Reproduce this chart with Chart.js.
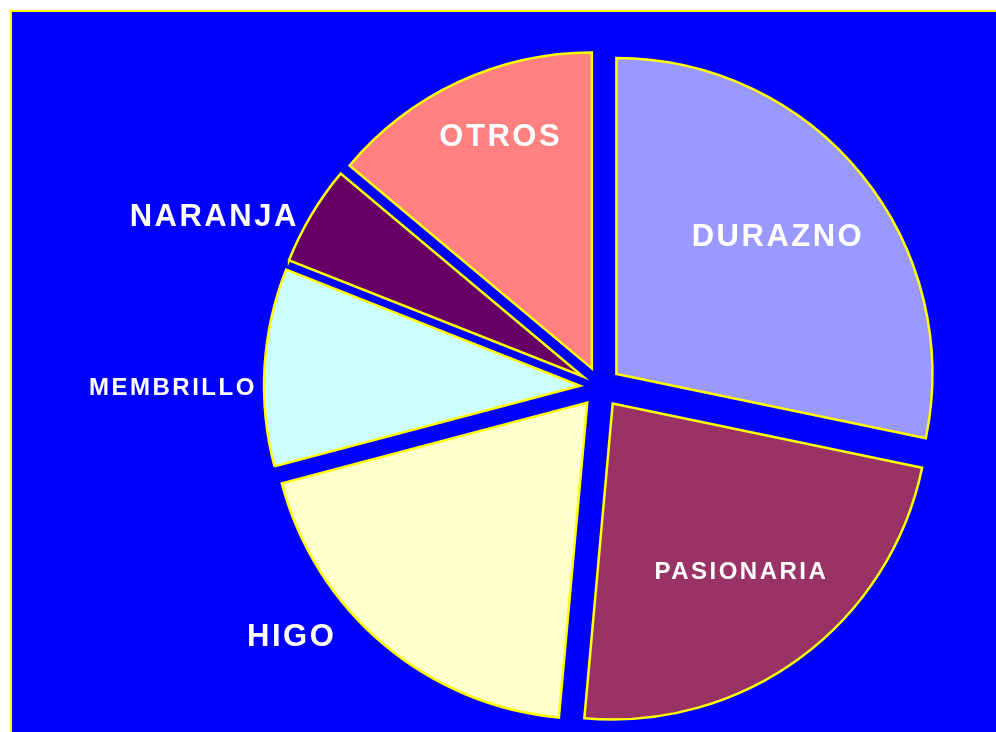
<!DOCTYPE html>
<html>
<head>
<meta charset="utf-8">
<script src="https://cdn.jsdelivr.net/npm/chart.js@4.4.1/dist/chart.umd.min.js"></script>
<style>
  html, body { margin: 0; padding: 0; background: #ffffff; width: 996px; height: 732px; overflow: hidden; }
  #frame { position: absolute; left: 10px; top: 10px; width: 1000px; height: 740px; background: #0000FF;
           border-top: 2px solid #FFFF00; border-left: 2px solid #FFFF00; box-sizing: border-box; }
  #wrap { position: absolute; left: 0; top: 0; width: 996px; height: 732px; }
</style>
</head>
<body>
<div id="frame"></div>
<div id="wrap"><canvas id="c" width="996" height="732"></canvas></div>
<script>
// ---- data ----
const categories = ['DURAZNO', 'PASIONARIA', 'HIGO', 'MEMBRILLO', 'NARANJA', 'OTROS'];
const values = [28.25, 23.17, 19.46, 10.1, 5.1, 13.9];
const sliceColors = ['#9999FF', '#993366', '#FFFFCC', '#CCFFFF', '#660066', '#FF8080'];

// ---- label placement (relative to slice bisector) ----
const labelRadiusFactor = [0.736, 0.728, 1.256, 1.357, 1.342, 0.86];
const labelAngleShiftDeg = [-1.6, -0.8, 11.2, -3.3, -6.8, 3.2];
const labelFontSize = [31, 24, 31, 24, 31, 31];
const EXPLODE = 20.5;
const RADIUS = 316;

const explodePlugin = {
  id: 'explode',
  beforeDatasetsDraw(chart) {
    const meta = chart.getDatasetMeta(0);
    const ca = chart.chartArea;
    const cx = (ca.left + ca.right) / 2, cy = (ca.top + ca.bottom) / 2;
    meta.data.forEach(el => {
      const mid = (el.startAngle + el.endAngle) / 2;
      el.x = cx + EXPLODE * Math.cos(mid);
      el.y = cy + EXPLODE * Math.sin(mid);
    });
  }
};

const labelPlugin = {
  id: 'sliceLabels',
  afterDatasetsDraw(chart) {
    const ctx = chart.ctx;
    const meta = chart.getDatasetMeta(0);
    const ca = chart.chartArea;
    const cx = (ca.left + ca.right) / 2, cy = (ca.top + ca.bottom) / 2;
    ctx.save();
    ctx.fillStyle = '#FFFFFF';
    ctx.textAlign = 'center';
    ctx.textBaseline = 'middle';
    meta.data.forEach((el, i) => {
      const mid = (el.startAngle + el.endAngle) / 2 + labelAngleShiftDeg[i] * Math.PI / 180;
      const r = labelRadiusFactor[i] * el.outerRadius;
      const x = cx + r * Math.cos(mid);
      const y = cy + r * Math.sin(mid);
      ctx.font = 'bold ' + labelFontSize[i] + 'px "Liberation Sans", Arial, sans-serif';
      ctx.letterSpacing = '2.5px';
      ctx.fillText(categories[i], x + 1.25, y + 2.5);
    });
    ctx.restore();
  }
};

new Chart(document.getElementById('c'), {
  type: 'pie',
  data: {
    labels: categories,
    datasets: [{
      data: values,
      backgroundColor: sliceColors,
      borderColor: '#FFFF00',
      borderWidth: 2.5,
      borderJoinStyle: 'miter',
      offset: 0
    }]
  },
  options: {
    responsive: false,
    animation: false,
    events: [],
    radius: RADIUS,
    layout: { padding: { left: 205, right: 0, top: 42, bottom: 0 } },
    plugins: { legend: { display: false }, tooltip: { enabled: false } }
  },
  plugins: [explodePlugin, labelPlugin]
});
</script>
</body>
</html>
